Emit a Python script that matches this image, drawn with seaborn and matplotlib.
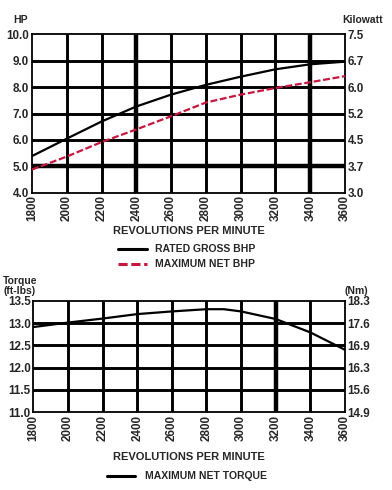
import numpy as np
import pandas as pd
import seaborn as sns
import matplotlib.pyplot as plt

# values
rpm = [1800, 2000, 2200, 2400, 2600, 2800, 3000, 3200, 3400, 3600]
rated_gross_bhp = [5.39, 6.05, 6.70, 7.27, 7.72, 8.09, 8.40, 8.68, 8.87, 8.97]
max_net_bhp = [4.88, 5.37, 5.92, 6.40, 6.90, 7.42, 7.72, 7.97, 8.19, 8.42]

torque_rpm = [1800, 2000, 2200, 2400, 2600, 2800, 2900, 3000, 3200, 3400, 3600]
max_net_torque = [12.91, 13.01, 13.10, 13.20, 13.26, 13.31, 13.31, 13.26, 13.09, 12.79, 12.40]

hp_ticks = [4.0, 5.0, 6.0, 7.0, 8.0, 9.0, 10.0]
kw_labels = ['3.0', '3.7', '4.5', '5.2', '6.0', '6.7', '7.5']
tq_ticks = [11.0, 11.5, 12.0, 12.5, 13.0, 13.5]
nm_labels = ['14.9', '15.6', '16.3', '16.9', '17.6', '18.3']

RED = '#c8173f'
TICK_SIZE = 8.4

sns.set_style("white")
plt.rcParams['font.family'] = ['Liberation Sans', 'DejaVu Sans']
plt.rcParams['font.weight'] = 'bold'
plt.rcParams['font.size'] = 7.5

fig = plt.figure(figsize=(3.92, 4.90), dpi=100)
ax1 = fig.add_axes([0.0816, 0.6067, 0.7984, 0.3229])
ax2 = fig.add_axes([0.085, 0.1586, 0.795, 0.2277])


def style_grid(ax, yticks, ylabels_right, thick_x=(), thick_y=(), labelpad=3):
    ax.set_xlim(1800, 3600)
    ax.set_ylim(yticks[0], yticks[-1])
    ax.set_xticks(rpm)
    ax.set_xticklabels([str(r) for r in rpm], rotation=90, fontweight='bold')
    ax.set_yticks(yticks)
    ax.set_yticklabels([f'{t:.1f}' for t in yticks], fontweight='bold')
    ax.tick_params(length=0, pad=2, labelsize=TICK_SIZE)
    for x in rpm[1:-1]:
        ax.axvline(x, color='black', lw=3.2 if x in thick_x else 2.1, zorder=1)
    for y in yticks[1:-1]:
        ax.axhline(y, color='black', lw=3.2 if y in thick_y else 2.1, zorder=1)
    for s in ax.spines.values():
        s.set_color('black')
        s.set_linewidth(1.3)
    ax.grid(False)
    ax.set_xlabel('REVOLUTIONS PER MINUTE', fontweight='bold', fontsize=8, labelpad=labelpad)
    ax.set_ylabel('')
    axr = ax.twinx()
    axr.set_ylim(yticks[0], yticks[-1])
    axr.set_yticks(yticks)
    axr.set_yticklabels(ylabels_right, fontweight='bold')
    axr.tick_params(length=0, pad=2, labelsize=TICK_SIZE)
    for s in axr.spines.values():
        s.set_visible(False)
    return axr


# top chart: horsepower
sns.lineplot(x=rpm, y=rated_gross_bhp, ax=ax1, color='black', lw=1.6, zorder=3)
sns.lineplot(x=rpm, y=max_net_bhp, ax=ax1, color=RED, lw=1.6, zorder=3, linestyle=(0, (3.1, 1.2)))
style_grid(ax1, hp_ticks, kw_labels, thick_x=(2400, 3400), thick_y=(5.0,))
fig.text(0.033, 0.953, 'HP', fontweight='bold', fontsize=7.5)
fig.text(0.873, 0.953, 'Kilowatt', fontweight='bold', fontsize=7.5)

# top legend
fig.add_artist(plt.Line2D([0.30, 0.375], [0.491, 0.491], color='black', lw=2.2))
fig.add_artist(plt.Line2D([0.30, 0.375], [0.461, 0.461], color=RED, lw=2.2, linestyle=(0, (3, 1.2))))
fig.text(0.395, 0.491, 'RATED GROSS BHP', fontweight='bold', fontsize=7.5, va='center')
fig.text(0.395, 0.461, 'MAXIMUM NET BHP', fontweight='bold', fontsize=7.5, va='center')

# bottom chart: torque
sns.lineplot(x=torque_rpm, y=max_net_torque, ax=ax2, color='black', lw=1.6, zorder=3)
style_grid(ax2, tq_ticks, nm_labels, thick_x=(3200,), labelpad=8)
fig.text(0.008, 0.420, 'Torque', fontweight='bold', fontsize=7.5)
fig.text(0.008, 0.401, '(ft-lbs)', fontweight='bold', fontsize=7.5)
fig.text(0.880, 0.401, '(Nm)', fontweight='bold', fontsize=7.5)

fig.add_artist(plt.Line2D([0.273, 0.345], [0.029, 0.029], color='black', lw=2.2))
fig.text(0.37, 0.029, 'MAXIMUM NET TORQUE', fontweight='bold', fontsize=7.5, va='center')

fig.savefig('out.png', dpi=100)
